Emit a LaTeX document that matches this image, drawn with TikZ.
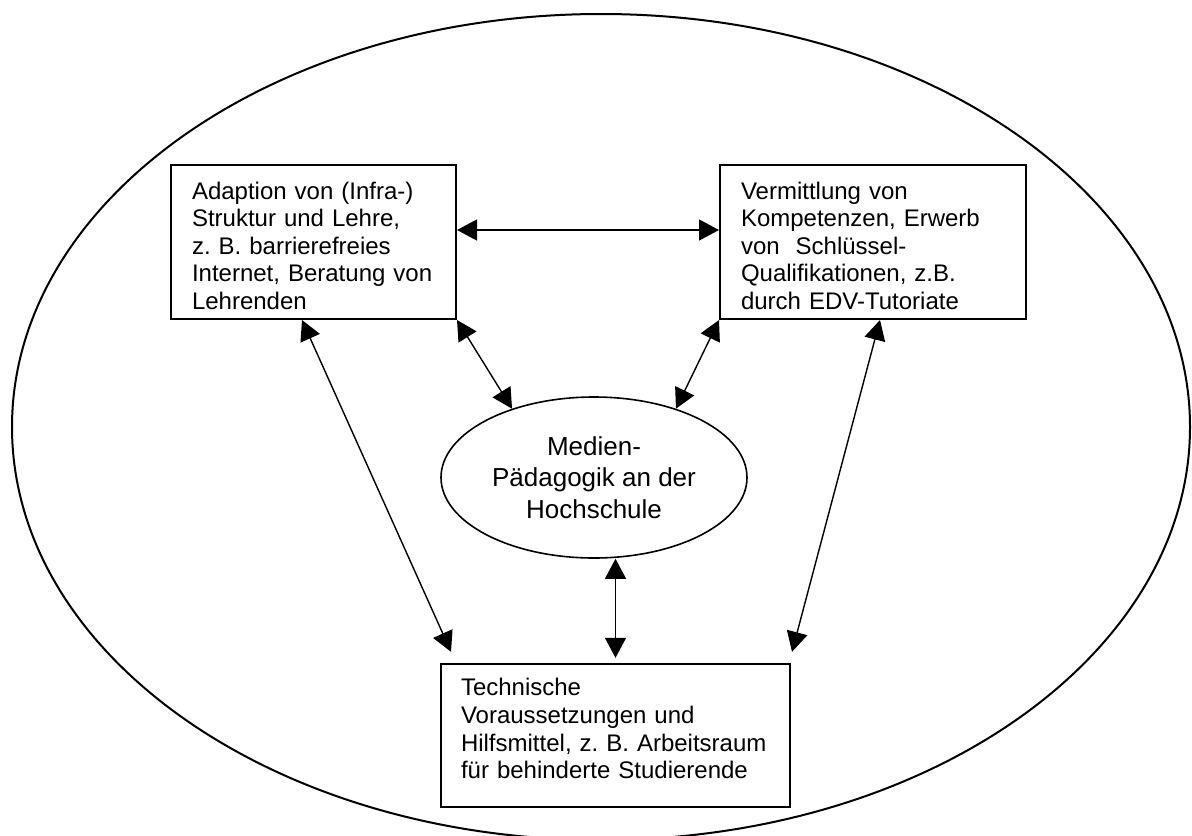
\documentclass[tikz,border=0pt]{standalone}
\usepackage{fontspec}
\setmainfont{Liberation Sans}
\usetikzlibrary{arrows.meta,positioning,shapes.geometric}
\frenchspacing

\begin{document}
\begin{tikzpicture}[x=0.5pt,y=-0.5pt,<->,>={Triangle[length=10pt,width=10.5pt]},line width=0.7pt,
  font=\fontsize{12}{13.8}\selectfont]
\tikzstyle{feld}=[draw,rectangle,line width=1pt,align=left,inner ysep=0pt,inner xsep=10.5pt,anchor=north west]
\tikzstyle{mitte}=[draw,ellipse,line width=0.8pt,align=center,inner sep=0pt,minimum width=153pt,minimum height=80.5pt,
  font=\fontsize{13}{15.75}\selectfont]
\useasboundingbox (0,0) rectangle (1192,835);
\node[draw,ellipse,line width=1pt,inner sep=0pt,minimum width=589pt,minimum height=413pt] (rahmen) at (601,427) {};
\node[feld,text width=121.5pt,text height=17pt,text depth=60pt] (adapt) at (170,164)
  {Adaption von (Infra-)\\Struktur und Lehre,\\z. B. barrierefreies\\Internet, Beratung von\\Lehrenden};
\node[feld,text width=132pt,text height=17pt,text depth=60pt,right=131pt of adapt] (vermit)
  {Vermittlung von\\Kompetenzen, Erwerb\\von\ \ Schlüssel-\\Qualifikationen, z.B.\\durch EDV-Tutoriate};
\node[mitte] (medien) at (594,477.5) {Medien-\\Pädagogik an der\\Hochschule};
\node[feld,inner xsep=10pt,text width=154.5pt,text height=16pt,text depth=55.5pt,below=52pt of medien,xshift=10.75pt] (techn)
  {Technische\\Voraussetzungen und\\Hilfsmittel, z. B. Arbeitsraum\\für behinderte Studierende};
\draw ([yshift=6pt]adapt.east) -- ([yshift=6pt]vermit.west);
\draw (adapt.south east) -- (medien.140);
\draw (vermit.south west) -- (medien.40);
\draw ([xshift=-5.75pt]adapt.south) -- ([shift={(5.5pt,5.5pt)}]techn.north west);
\draw ([xshift=3.5pt]vermit.south) -- ([shift={(0.5pt,5.5pt)}]techn.north east);
\draw (medien.south -| techn.north) -- ([yshift=2.5pt]techn.north);
\end{tikzpicture}
\end{document}
